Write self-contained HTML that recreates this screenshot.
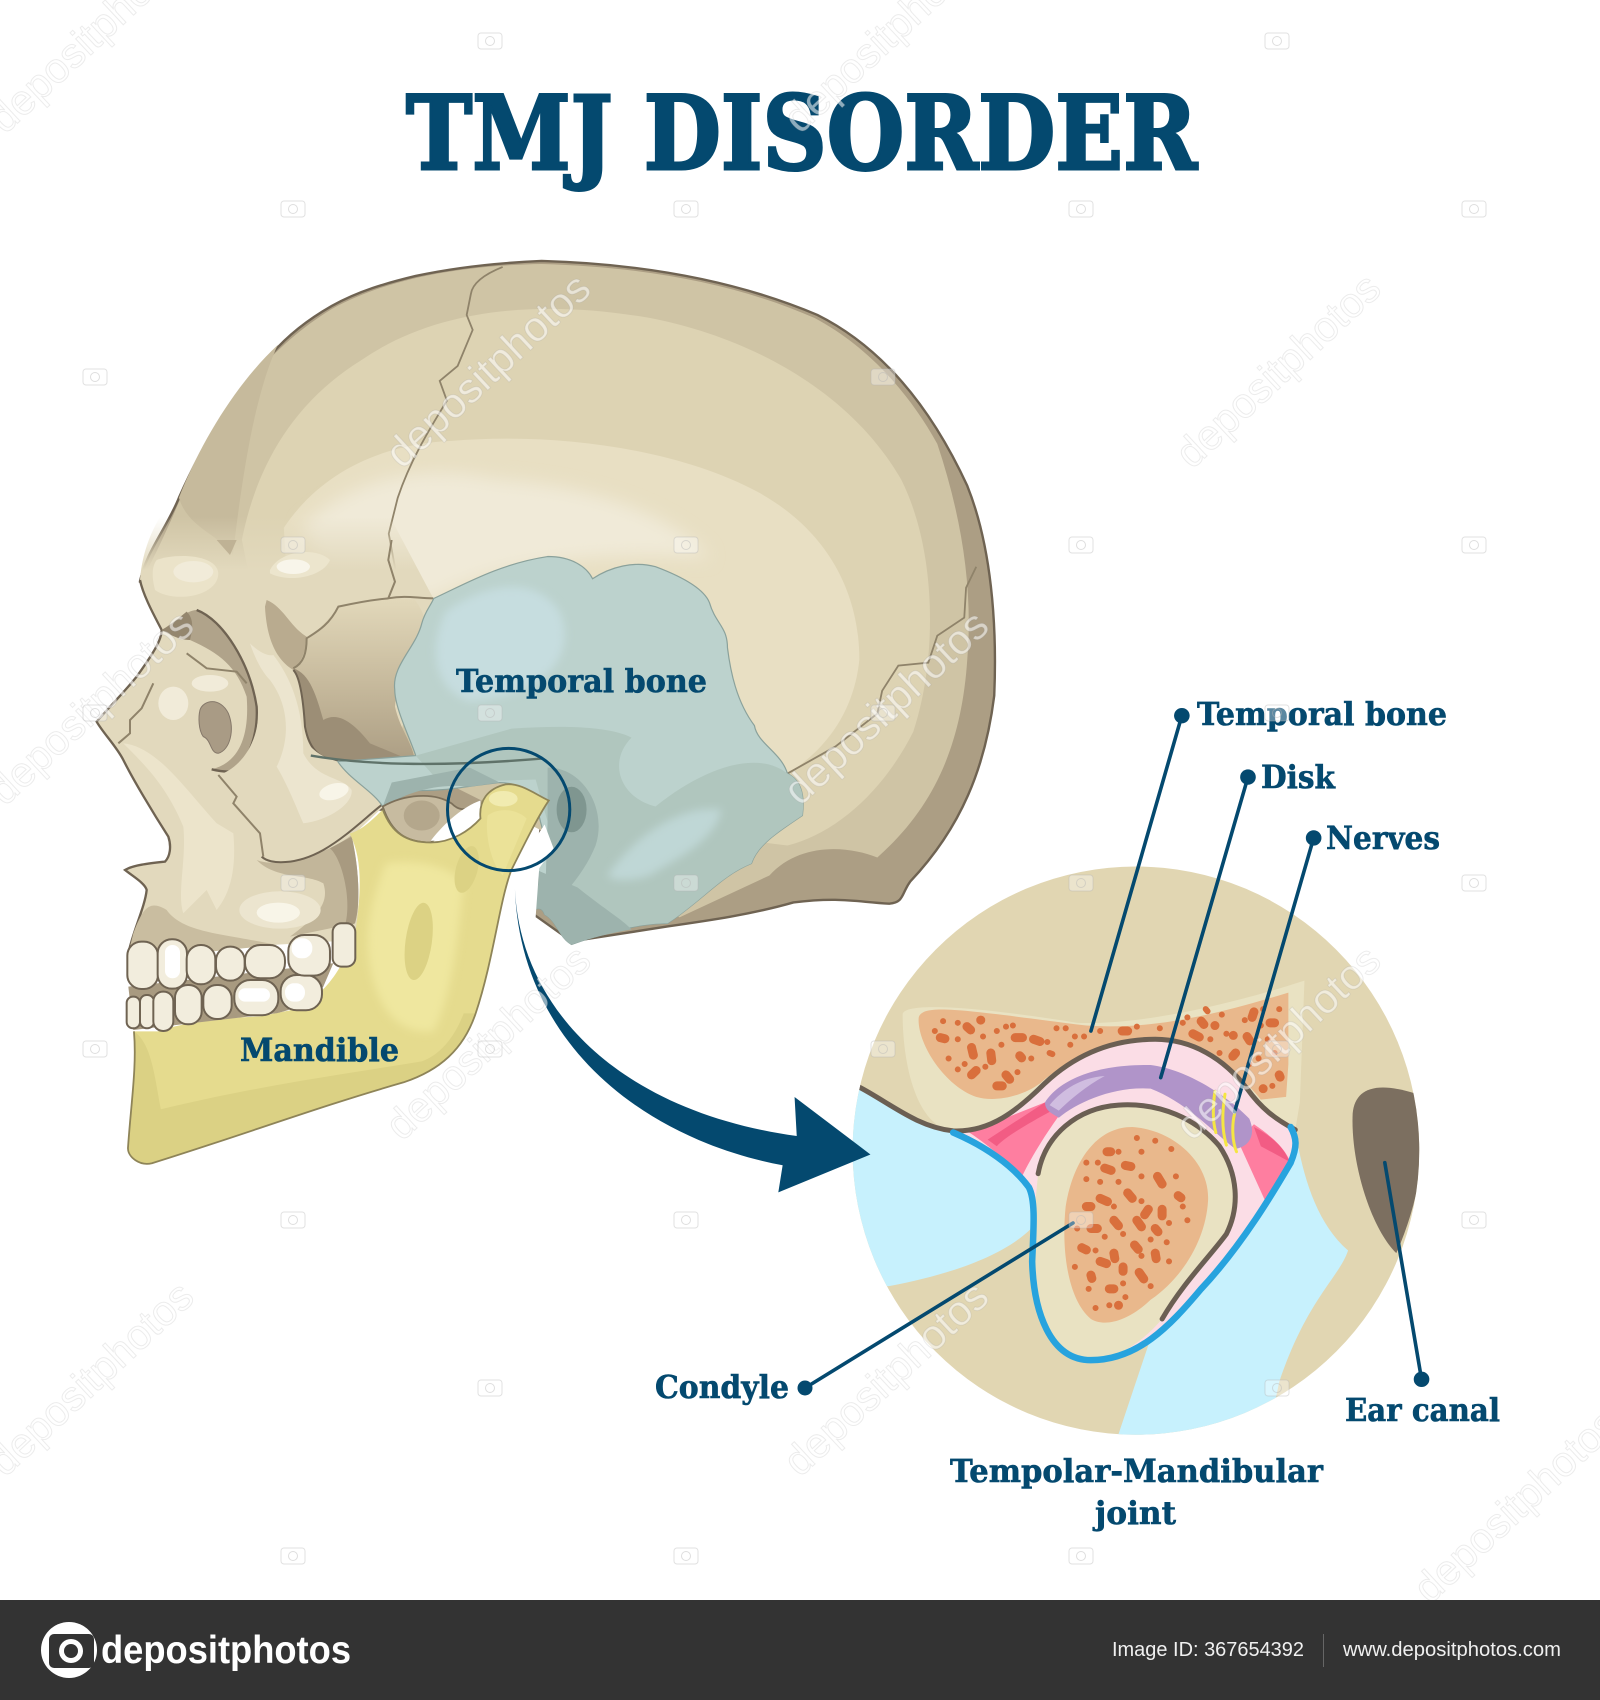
<!DOCTYPE html>
<html><head><meta charset="utf-8"><style>
html,body{margin:0;padding:0;background:#fff}
svg{display:block}
.l{font-family:"DejaVu Serif","Liberation Serif",serif;font-weight:bold;fill:#04496f;stroke:#04496f;stroke-width:.6px;font-size:32px}
.w{font-family:"Liberation Sans",sans-serif;font-size:42px;fill:#fff;fill-opacity:.55;stroke:#8a8a8a;stroke-opacity:.16;stroke-width:1}
</style></head><body>
<svg width="1600" height="1700" viewBox="0 0 1600 1700" xmlns="http://www.w3.org/2000/svg">
<defs>
<clipPath id="c"><ellipse cx="688" cy="858" rx="617" ry="518"/></clipPath>
<filter id="b" x="-10%" y="-10%" width="120%" height="120%"><feGaussianBlur stdDeviation="7"/></filter>
<filter id="b2" x="-10%" y="-10%" width="120%" height="120%"><feGaussianBlur stdDeviation="14"/></filter>
<linearGradient id="fg" x1="0" y1="0" x2="0" y2="1"><stop offset="0" stop-color="#e2d8ba"/><stop offset=".55" stop-color="#c5b89b"/><stop offset="1" stop-color="#ac9e84"/></linearGradient>
<linearGradient id="faceg" gradientUnits="userSpaceOnUse" x1="0" y1="-70" x2="0" y2="90"><stop offset="0" stop-color="#e2d9bd" stop-opacity="0"/><stop offset="1" stop-color="#e2d9bd"/></linearGradient>
<g id="cam"><rect x="-12" y="-8" width="24" height="16" rx="3" fill="#fff" fill-opacity=".35" stroke="#b5b5b5" stroke-opacity=".4"/><circle r="4.5" fill="none" stroke="#b5b5b5" stroke-opacity=".45"/></g>
</defs>
<rect width="1600" height="1700" fill="#fff"/>

<!-- skull cranium -->
<g transform="translate(80,240) scale(.5995)">
<path d="M100,570C110,520 145,480 165,430C185,385 205,345 230,310C260,265 290,225 320,190C350,155 385,130 420,110C465,85 510,72 560,60C630,45 700,38 770,35C950,40 1100,70 1230,125C1340,180 1420,280 1480,410C1520,510 1530,640 1525,760C1510,880 1470,980 1385,1070C1370,1090 1375,1105 1350,1107C1300,1105 1270,1095 1190,1105C1120,1125 1050,1135 980,1145L820,1170L750,1120L770,970L500,950L300,900L200,650Z" fill="#ac9e84" stroke="#6f6352" stroke-width="4"/>
<path d="M104,566C150,480 170,420 200,360C260,250 330,170 420,115C520,60 650,42 770,40C950,45 1100,75 1225,130C1310,175 1380,250 1430,340C1470,460 1490,580 1480,700C1470,850 1420,950 1330,1030C1280,1010 1200,1005 1150,1060L1000,1130L800,1000L400,800Z" fill="#cfc4a5"/>
<path d="M165,430C200,340 260,240 330,175C290,260 270,400 255,525C230,490 180,480 165,430Z" fill="#c6ba9c"/>
<path d="M270,500C290,400 340,280 470,200C600,110 780,100 950,130C1130,165 1290,260 1370,400C1430,520 1430,700 1390,820C1340,920 1260,990 1180,1010L1100,1000L700,850L300,650Z" fill="#ddd3b3"/>
<path d="M340,480C400,390 500,340 620,335C800,320 1000,350 1130,420C1240,480 1300,580 1300,700C1290,800 1230,860 1180,890L900,850L350,650Z" fill="#e8dfc3"/>
<path d="M370,480C450,400 560,370 700,400C840,410 980,450 1050,530C900,520 700,530 590,600L440,600Z" fill="#f0ead8" filter="url(#b2)"/>
<g fill="none" stroke="#8f836a" stroke-width="3">
<path d="M705,45C680,55 655,70 652,90L645,125L655,150L630,210L600,235L612,268C580,320 550,370 530,430L515,490L528,560L515,595"/>
<path d="M1180,890L1260,845L1330,790L1338,752L1365,710L1415,705L1430,660L1475,630L1478,580L1495,545"/>
</g>
</g>

<!-- face -->
<g transform="translate(90,540) scale(.3333)">
<path d="M150,120C155,60 170,0 210,-70L900,-70L1030,175L880,800L785,890C805,1000 810,1100 800,1200L115,1240C130,1170 165,1100 170,1050C165,1030 130,1010 105,990C130,975 180,970 225,965C240,950 245,920 235,890C190,820 130,720 100,660C80,620 40,580 20,545C40,520 100,460 140,410C190,340 215,300 215,270C200,240 160,170 150,120Z" fill="url(#faceg)"/>
<path d="M150,120C160,170 200,240 215,270C215,300 190,340 140,410C100,460 40,520 20,545C40,580 80,620 100,660C130,720 190,820 235,890C245,920 240,950 225,965C180,970 130,975 105,990C130,1010 165,1030 170,1050C165,1100 130,1170 115,1240" fill="none" stroke="#6f6352" stroke-width="7"/>
<path d="M200,60C250,40 380,40 385,100C385,170 250,190 195,150C185,110 185,80 200,60Z" fill="#ebe3c9"/>
<ellipse cx="310" cy="95" rx="60" ry="32" fill="#f1ebd9"/>
<path d="M540,90C570,30 680,20 720,60C700,110 600,130 540,100Z" fill="#ece5cd"/>
<ellipse cx="610" cy="80" rx="50" ry="22" fill="#f8f5ea"/>
<path d="M380,0L440,0L420,45Z" fill="#bfb295"/>
<path d="M100,610C200,620 280,740 380,850L430,880C440,990 420,1060 380,1110L350,1050L280,1120C260,1060 290,960 280,860C230,740 170,680 100,610Z" fill="#ece4cb"/>
<path d="M500,960C560,985 700,950 785,885C810,1000 810,1100 795,1150L600,1190C680,1130 720,1090 700,1030C650,1000 560,1020 500,960Z" fill="#c2b69a"/>
<path d="M785,890C810,1000 810,1100 795,1150L760,1170C790,1100 760,960 720,925Z" fill="#a89a80"/>
<ellipse cx="570" cy="1110" rx="122" ry="56" fill="#ece5cf"/>
<ellipse cx="565" cy="1118" rx="65" ry="30" fill="#f8f5e8"/>
<path d="M130,1180C160,1100 180,1080 230,1110C280,1180 400,1180 560,1215L110,1260Z" fill="#c9bda0"/>
<ellipse cx="250" cy="490" rx="45" ry="50" fill="#f1ebd9"/><ellipse cx="360" cy="430" rx="55" ry="25" fill="#f1ebd9"/>
<path d="M215,270C250,250 290,210 320,210C400,240 480,370 500,500C505,590 470,680 420,695C400,695 380,690 365,688C440,670 480,600 470,470C440,380 390,340 300,300C270,295 240,285 215,270Z" fill="#b0a38a"/>
<path d="M290,215C260,240 235,260 215,270C240,285 270,300 300,300C310,260 310,235 290,215Z" fill="#94866e"/>
<path d="M320,210C400,240 480,370 500,500C505,590 470,680 420,695C400,695 380,692 365,688" fill="none" stroke="#6f6352" stroke-width="7"/>
<path d="M330,510C340,480 390,470 415,520C435,570 420,630 385,640C360,640 365,600 340,590C325,570 325,530 330,510Z" fill="#a99b85" stroke="#85786a" stroke-width="3"/>
<path d="M525,210C540,310 560,350 610,390C630,410 640,480 645,560C660,640 700,660 745,660L975,665C970,610 930,570 915,500C920,420 970,350 1010,290C1010,230 990,200 975,180C890,170 830,180 750,200C710,240 680,280 650,300C630,340 620,370 610,385Z" fill="url(#fg)"/>
<path d="M610,385C660,400 680,470 700,540C750,510 800,560 840,610L960,660L720,660C670,650 640,600 645,540C640,480 630,420 610,385Z" fill="#9c8e76"/>
<path d="M525,200C530,300 560,360 610,390C640,360 650,320 650,290C600,260 580,200 530,180Z" fill="#b9ab8f"/>
<path d="M610,390C630,410 640,480 645,560C660,640 700,660 745,662" fill="none" stroke="#6f6352" stroke-width="6"/>
<path d="M500,360C560,400 620,400 645,600C680,650 730,660 745,665C790,720 840,750 875,795C830,830 770,890 700,930C620,975 540,975 515,950C500,900 420,770 385,705C440,690 510,620 505,500C500,440 490,400 480,380Z" fill="#e2d9bd"/>
<path d="M480,310C500,330 530,350 550,345C600,410 640,500 640,640C680,720 760,710 785,750C790,790 720,840 640,850C610,780 590,730 560,680C600,600 600,500 540,420C510,390 490,340 480,310Z" fill="#ece5cf"/>
<ellipse cx="732" cy="755" rx="45" ry="24" fill="#f8f5e8" transform="rotate(-15 732 755)"/>
<path d="M515,950C540,975 620,975 700,930C770,890 830,830 875,795" fill="none" stroke="#6f6352" stroke-width="6"/>
<g fill="none" stroke="#8f836a" stroke-width="6">
<path d="M1030,175C980,175 950,165 895,175L915,125L895,60L905,0"/>
<path d="M895,175C840,180 790,190 745,200C720,250 690,270 650,295C650,340 640,370 610,385"/>
<path d="M290,340L350,385L440,395L470,430M190,430L155,505L120,540L120,580L85,610"/>
<path d="M385,705L440,770L430,790L510,880L520,950"/>
</g>
</g>

<!-- temporal -->
<g transform="translate(80,240) scale(.5995)">
<path d="M590,598C640,575 700,540 780,528C820,528 845,545 855,565C885,545 925,535 960,545C1000,560 1040,580 1050,605C1060,640 1080,645 1080,680C1085,720 1095,770 1125,810C1130,840 1170,855 1180,890C1200,900 1210,920 1205,960C1160,990 1130,1010 1120,1040C1070,1060 1040,1100 980,1140C940,1140 890,1150 820,1175C800,1165 795,1135 775,1125C770,1110 760,1115 748,1122C755,1095 775,1070 760,1050C770,1030 780,1010 768,970C760,930 740,905 700,905C650,910 610,920 560,918C540,925 520,940 505,945C490,920 450,900 430,870L560,860C550,830 525,780 525,750C520,710 560,680 570,640C575,620 585,610 590,598Z" fill="#bcd2cd" stroke="#8aa19b" stroke-width="2"/>
<path d="M610,620C680,570 760,560 800,620C830,690 780,760 650,770C590,750 580,680 610,620Z" fill="#c6dddf" filter="url(#b)"/>
<path d="M560,860L720,815C800,810 880,810 920,830C880,870 900,930 960,945C1040,880 1130,850 1180,890C1200,900 1210,920 1205,960C1160,990 1130,1010 1120,1040C1070,1060 1040,1100 980,1140C940,1140 890,1150 820,1175C800,1165 795,1135 775,1125L780,970L760,900L600,905Z" fill="#b0c6be"/>
<path d="M880,1060C920,1000 1000,940 1070,950C1060,1000 1000,1030 950,1060C920,1070 890,1070 880,1060Z" fill="#bfd7d6" filter="url(#b)"/>
<path d="M780,880C840,880 880,950 860,1010C840,1060 800,1100 775,1125L780,970Z" fill="#9db3ad"/>
<ellipse cx="820" cy="950" rx="25" ry="38" fill="#7f9690"/>
<path d="M820,1175C800,1165 795,1135 775,1125C770,1110 760,1115 748,1122C755,1095 775,1070 760,1050L830,1080C880,1120 900,1130 920,1150C890,1155 850,1165 820,1175Z" fill="#9db3ad"/>
<path d="M505,945C540,925 590,905 650,912L700,905L650,880L520,905Z" fill="#9db3ad"/>
<path d="M385,860C500,880 650,875 770,865" fill="none" stroke="#5f7269" stroke-width="4"/>
<path d="M505,945C540,925 590,920 620,940C630,950 640,955 665,940L610,985L585,1005C545,1005 520,990 505,945Z" fill="#c7bba0" stroke="#7d705a" stroke-width="3"/>
<ellipse cx="570" cy="960" rx="30" ry="25" fill="#b4a78c"/>
<path d="M585,1002C610,970 640,945 668,935L668,970C640,995 610,1003 585,1002Z" fill="#fff"/>
<path d="M775,975L728,1045L700,1110L760,1130L766,1048L790,1015Z" fill="#fff"/>
<path d="M505,950C520,990 545,1005 585,1005C620,1005 650,985 668,965C665,935 680,915 710,908C735,905 760,925 782,935C765,960 745,1000 720,1050C700,1100 690,1200 660,1290C640,1350 600,1385 540,1405C400,1445 280,1490 120,1540C100,1545 80,1530 80,1515C85,1440 95,1380 90,1320L130,1320C160,1310 200,1300 300,1295L350,1285C400,1270 440,1220 460,1150C470,1080 470,1030 450,990C470,985 490,965 505,950Z" fill="#e5db8e"/>
<path d="M90,1320C120,1340 125,1400 135,1450C300,1410 450,1390 570,1370C600,1360 625,1330 640,1290L660,1290C640,1350 600,1385 540,1405C400,1445 280,1490 120,1540C100,1545 80,1530 80,1515C85,1440 95,1380 90,1320Z" fill="#dbd184"/>
<path d="M510,1040C570,1030 620,1050 640,1070C630,1170 620,1260 590,1320C500,1330 480,1220 480,1170C480,1120 495,1080 510,1040Z" fill="#efe79f" filter="url(#b)"/>
<ellipse cx="565" cy="1170" rx="22" ry="65" fill="#dcd284" transform="rotate(8 565 1170)"/>
<ellipse cx="645" cy="1050" rx="18" ry="40" fill="#dcd284" transform="rotate(15 645 1050)"/>
<path d="M680,960C700,945 730,950 745,965L705,1060C685,1040 675,990 680,960Z" fill="#ebe298"/>
<ellipse cx="706" cy="932" rx="24" ry="13" fill="#f1ebb0"/>
<path d="M505,950C520,990 545,1005 585,1005C620,1005 650,985 668,965C665,935 680,915 710,908C735,905 760,925 782,935C765,960 745,1000 720,1050C700,1100 690,1200 660,1290C640,1350 600,1385 540,1405C400,1445 280,1490 120,1540C100,1545 80,1530 80,1515C85,1440 95,1380 90,1320" fill="none" stroke="#8e8458" stroke-width="3"/>
</g>

<!-- teeth -->
<g transform="translate(90,540) scale(.3333)">
<path d="M115,1340L730,1270L700,1340C640,1400 600,1410 560,1420L130,1470Z" fill="#a89a80"/>
<g fill="#f2eddd" stroke="#6f6352" stroke-width="6">
<rect x="110" y="1370" width="40" height="95" rx="19"/><rect x="150" y="1365" width="42" height="100" rx="20"/><rect x="190" y="1355" width="60" height="118" rx="29"/><rect x="255" y="1335" width="80" height="118" rx="38"/><rect x="340" y="1335" width="85" height="102" rx="40"/><rect x="433" y="1320" width="132" height="106" rx="48"/><rect x="572" y="1305" width="124" height="106" rx="48"/>
<rect x="112" y="1205" width="92" height="142" rx="42"/><rect x="203" y="1198" width="88" height="148" rx="42"/><rect x="290" y="1215" width="86" height="118" rx="42"/><rect x="378" y="1220" width="86" height="102" rx="42"/><rect x="465" y="1215" width="120" height="100" rx="46"/><rect x="595" y="1185" width="125" height="122" rx="48"/><rect x="728" y="1150" width="68" height="130" rx="26"/>
</g>
<g fill="#fff"><rect x="605" y="1195" width="62" height="60" rx="28"/><rect x="225" y="1215" width="45" height="100" rx="22"/><rect x="585" y="1330" width="60" height="55" rx="26"/><rect x="445" y="1345" width="95" height="40" rx="20"/></g>
</g>

<g transform="translate(80,240) scale(.5995)">
<circle cx="715" cy="950" r="102" fill="none" stroke="#04496f" stroke-width="5"/>
</g>

<!-- joint -->
<g transform="translate(820,680) scale(.4592,.5485)">
<g clip-path="url(#c)">
<rect x="0" y="300" width="1400" height="1100" fill="#e1d6b2"/>
<path d="M85,742C170,780 230,815 290,825C360,850 420,885 450,915L470,960L460,1000C400,1050 280,1085 150,1105L0,1105L0,742Z" fill="#c7f1fd"/>
<path d="M1035,820C1050,900 1080,990 1150,1040C1130,1090 1060,1130 1000,1280L970,1400L640,1400L720,1200Z" fill="#c7f1fd"/>
<path d="M1160,790C1165,745 1210,730 1300,755C1330,850 1300,960 1255,1045C1200,1000 1155,880 1160,790Z" fill="#7c6f60"/>
<path d="M180,610C180,590 300,590 560,625C700,630 900,590 1055,548L1045,770L1035,820C990,800 960,780 930,745C880,690 810,655 730,655C640,655 560,680 490,735C430,785 370,825 290,822C210,815 180,700 180,610Z" fill="#e9e2c2"/>
<path d="M215,615C225,590 300,600 580,630C740,640 900,600 1020,570L1020,700L1015,760L960,765C900,700 810,665 720,662C620,665 540,690 480,735C440,760 380,770 340,760C270,740 210,660 215,615Z" fill="#e9b88c"/>
<path d="M290,825C370,825 430,785 490,735C560,680 640,655 730,655C810,655 880,690 930,745C960,780 990,800 1035,820C1040,850 1030,870 1025,880C990,930 920,1030 830,1110C760,1180 690,1240 590,1240L500,1100L455,925C420,885 360,850 290,825Z" fill="#fbdde6"/>
<path d="M325,825L490,770L520,795C490,830 460,870 440,905C410,880 370,850 325,825Z" fill="#fe7ea0"/>
<path d="M365,838L490,770L505,785C450,810 400,835 385,850Z" fill="#f25c84"/>
<path d="M910,840L945,810C980,830 1010,850 1025,880L975,960Z" fill="#fe7ea0"/>
<path d="M945,815C980,830 1010,850 1022,878L960,850Z" fill="#f25c84"/>
<path d="M490,770C520,730 600,700 720,702C800,710 890,760 935,800C950,830 935,850 905,855C870,835 800,770 720,745C640,740 560,770 520,798C505,790 490,785 490,770Z" fill="#b094c9"/>
<path d="M500,775C530,745 570,725 620,722C580,740 545,765 520,785Z" fill="#d0bde0"/>
<path d="M475,900C490,830 560,780 650,775C740,770 820,800 870,850C910,900 915,960 885,1010C850,1050 790,1100 745,1165C700,1210 640,1240 590,1240C500,1240 465,1150 462,1060L468,960Z" fill="#e9e2c2"/>
<path d="M535,960C550,880 600,815 680,815C770,820 850,880 845,950C840,1020 790,1090 720,1130C670,1170 620,1180 590,1165C540,1130 525,1040 535,960Z" fill="#e9b88c"/>
<g fill="none" stroke="#d96f3c" stroke-linecap="round">
<path vector-effect="non-scaling-stroke" stroke-width="9" d="M320,632l8,6M350,620h.1M262,652l10,2M330,670l4,14M372,680l2,14M425,652l16,0M465,655l14,4M435,685l4,4M385,740l12,0M340,712l-10,8M405,720l8,8M658,640l12,0M830,622l6,6M812,645l14,6M860,630h.1M905,680l-6,6M900,648h.1M945,605l-4,10M990,625l-10,0M930,650l6,8M965,745h.1M1000,720l2,4"/>
<path vector-effect="non-scaling-stroke" stroke-width="6" d="M300,625h.1M268,622h.1M355,650h.1M405,632h.1M300,655h.1M280,690h.1M315,700h.1M360,705h.1M395,665h.1M430,715h.1M460,690h.1M495,660h.1M515,635h.1M535,635h.1M555,650h.1M575,650h.1M610,640h.1M690,632h.1M740,635h.1M790,625h.1M800,615h.1M850,655h.1M875,610h.1M885,645h.1M925,620h.1M965,600h.1M975,655h.1M955,690h.1M990,680h.1M1000,600h.1M935,700h.1M985,740h.1M420,630h.1M500,680l6,2M545,665h.1M385,640h.1M250,640h.1M300,710h.1M870,680h.1M840,600l4,4M960,630h.1"/>
<path vector-effect="non-scaling-stroke" stroke-width="9" d="M625,860l8,0M665,885l12,2M620,890l14,4M735,905l10,14M610,945l16,6M670,935l10,10M715,965l-8,10M745,965l0,12M590,1000l14,0M640,985l10,10M690,985l10,12M570,1035l10,4M610,1060l14,4M640,1045l2,10M685,1030l8,8M730,1045l2,10M590,1085l2,6M695,1080l10,12M630,1110l10,0M660,1070l0,8M730,1000l6,6M580,960l10,0M650,1140h.1M780,940l6,4"/>
<path vector-effect="non-scaling-stroke" stroke-width="6" d="M690,835h.1M730,840h.1M765,855h.1M605,880h.1M580,910h.1M650,860h.1M700,860h.1M700,905h.1M650,915h.1M775,905h.1M800,985h.1M760,990h.1M790,960h.1M700,950h.1M640,960h.1M560,1000h.1M620,1015h.1M660,1010h.1M720,1020h.1M755,1025h.1M555,1070h.1M585,1110h.1M600,1145h.1M630,1140h.1M665,1125h.1M720,1105h.1M660,1100h.1M760,1060h.1M580,880h.1M610,915h.1M600,1040h.1M700,1050h.1"/>
</g>
<g fill="none" stroke-linecap="round">
<path vector-effect="non-scaling-stroke" d="M85,742C150,770 210,815 290,822C370,825 430,785 490,735C560,680 640,655 730,655C810,655 880,690 930,745C960,780 990,800 1035,820" stroke="#6b5f53" stroke-width="5"/>
<path vector-effect="non-scaling-stroke" d="M475,900C490,830 560,780 650,775C740,770 820,800 870,850C910,900 915,960 885,1010C850,1050 790,1100 745,1165" stroke="#6b5f53" stroke-width="5"/>
<path vector-effect="non-scaling-stroke" d="M290,825C360,850 420,885 455,925C470,950 465,1000 462,1060C465,1150 500,1240 590,1240C690,1240 760,1180 830,1110C920,1030 990,930 1025,880C1040,850 1038,835 1025,815" stroke="#27a3de" stroke-width="6.5"/>
<path vector-effect="non-scaling-stroke" d="M860,750C855,780 855,805 862,825M882,755C875,790 875,820 885,848M903,790C897,810 897,840 907,860" stroke="#f5e642" stroke-width="3"/>
</g>
</g>
<g fill="none" stroke="#04496f" stroke-width="3.6" stroke-linecap="round">
<path vector-effect="non-scaling-stroke" d="M788,65L590,640M932,177L742,725M1075,288L903,787M1310,1275L1230,880"/>
</g>
<g fill="#04496f">
<ellipse cx="788" cy="65" rx="17" ry="14"/><ellipse cx="932" cy="177" rx="17" ry="14"/><ellipse cx="1075" cy="288" rx="17" ry="14"/><ellipse cx="1310" cy="1275" rx="17" ry="14"/>
</g>
</g>
<path d="M1073,1223L805,1388" stroke="#04496f" stroke-width="3.6" fill="none" stroke-linecap="round"/>
<circle cx="805" cy="1388" r="7.5" fill="#04496f"/>

<path transform="scale(1.084)" d="M475,820C480,930 570,1025 735,1048L733,1012L803,1065L718,1100L722,1075C590,1050 480,960 475,820Z" fill="#04496f"/>

<!-- labels -->
<text x="406" y="169" font-family="DejaVu Serif,serif" font-weight="bold" font-size="102" fill="#04496f" stroke="#04496f" stroke-width="3" textLength="791" lengthAdjust="spacingAndGlyphs">TMJ DISORDER</text>
<text class="l" x="456" y="692" textLength="251" lengthAdjust="spacingAndGlyphs">Temporal bone</text>
<text class="l" x="240" y="1061" textLength="159" lengthAdjust="spacingAndGlyphs">Mandible</text>
<text class="l" x="1197" y="725" textLength="250" lengthAdjust="spacingAndGlyphs">Temporal bone</text>
<text class="l" x="1261" y="788" textLength="74" lengthAdjust="spacingAndGlyphs">Disk</text>
<text class="l" x="1326" y="849" textLength="114" lengthAdjust="spacingAndGlyphs">Nerves</text>
<text class="l" x="655" y="1398" textLength="134" lengthAdjust="spacingAndGlyphs">Condyle</text>
<text class="l" x="1345" y="1421" textLength="155" lengthAdjust="spacingAndGlyphs">Ear canal</text>
<text class="l" x="950" y="1482" textLength="373" lengthAdjust="spacingAndGlyphs">Tempolar-Mandibular</text>
<text class="l" x="1095" y="1524" textLength="81" lengthAdjust="spacingAndGlyphs">joint</text>

<!-- watermarks -->
<g>
<text class="w" transform="translate(402,470) rotate(-43)">depositphotos</text>
<text class="w" transform="translate(800,807) rotate(-43)">depositphotos</text>
<text class="w" transform="translate(1192,470) rotate(-43)">depositphotos</text>
<text class="w" transform="translate(402,1142) rotate(-43)">depositphotos</text>
<text class="w" transform="translate(800,1478) rotate(-43)">depositphotos</text>
<text class="w" transform="translate(1192,1142) rotate(-43)">depositphotos</text>
<text class="w" transform="translate(5,807) rotate(-43)">depositphotos</text>
<text class="w" transform="translate(5,1478) rotate(-43)">depositphotos</text>
<text class="w" transform="translate(5,135) rotate(-43)">depositphotos</text>
<text class="w" transform="translate(800,135) rotate(-43)">depositphotos</text>
<text class="w" transform="translate(1430,1605) rotate(-43)">depositphotos</text>
</g>
<g>
<use href="#cam" x="293" y="209"/><use href="#cam" x="686" y="209"/><use href="#cam" x="1081" y="209"/><use href="#cam" x="1474" y="209"/>
<use href="#cam" x="95" y="377"/><use href="#cam" x="490" y="41"/><use href="#cam" x="883" y="377"/><use href="#cam" x="1277" y="41"/>
<use href="#cam" x="293" y="545"/><use href="#cam" x="686" y="545"/><use href="#cam" x="1081" y="545"/><use href="#cam" x="1474" y="545"/>
<use href="#cam" x="95" y="713"/><use href="#cam" x="490" y="713"/><use href="#cam" x="883" y="713"/><use href="#cam" x="1277" y="713"/>
<use href="#cam" x="293" y="883"/><use href="#cam" x="686" y="883"/><use href="#cam" x="1081" y="883"/><use href="#cam" x="1474" y="883"/>
<use href="#cam" x="95" y="1049"/><use href="#cam" x="490" y="1049"/><use href="#cam" x="883" y="1049"/><use href="#cam" x="1277" y="1049"/>
<use href="#cam" x="293" y="1220"/><use href="#cam" x="686" y="1220"/><use href="#cam" x="1081" y="1220"/><use href="#cam" x="1474" y="1220"/>
<use href="#cam" x="490" y="1388"/><use href="#cam" x="1277" y="1388"/>
<use href="#cam" x="293" y="1556"/><use href="#cam" x="686" y="1556"/><use href="#cam" x="1081" y="1556"/>
</g>

<!-- footer -->
<rect x="0" y="1600" width="1600" height="100" fill="#333"/>
<circle cx="69" cy="1650" r="28" fill="#fff"/>
<rect x="49" y="1634" width="45" height="34" rx="5" fill="#333"/>
<circle cx="71" cy="1651" r="12" fill="#fff"/>
<circle cx="71" cy="1651" r="7" fill="#333"/>
<text x="101" y="1663" font-family="Liberation Sans,sans-serif" font-weight="bold" font-size="39" fill="#fff" textLength="250" lengthAdjust="spacingAndGlyphs">depositphotos</text>
<text x="1112" y="1656" font-family="Liberation Sans,sans-serif" font-size="20" fill="#f0f0f0" textLength="192" lengthAdjust="spacingAndGlyphs">Image ID: 367654392</text>
<rect x="1323" y="1634" width="1" height="33" fill="#666"/>
<text x="1343" y="1656" font-family="Liberation Sans,sans-serif" font-size="20" fill="#f0f0f0" textLength="218" lengthAdjust="spacingAndGlyphs">www.depositphotos.com</text>
</svg>
</body></html>
